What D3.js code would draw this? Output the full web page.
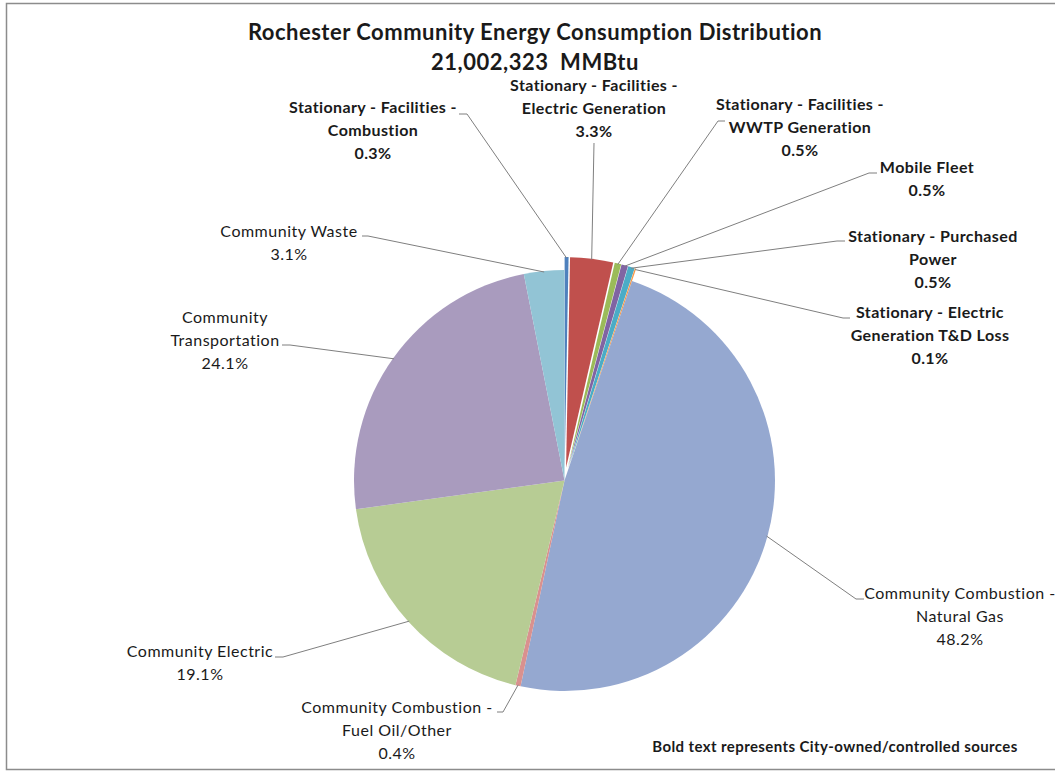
<!DOCTYPE html>
<html>
<head>
<meta charset="utf-8">
<script src="https://cdn.jsdelivr.net/npm/d3@7"></script>
<style>
  body { margin: 0; background: #fff; }
  text { font-family: Lato, "Liberation Sans", sans-serif; fill: #1a1a1a; }
</style>
</head>
<body>
<div id="chart"></div>
<script>
// slices clockwise from 12 o'clock
var categories = [
    "Stationary - Facilities - Combustion",
    "Stationary - Facilities - Electric Generation",
    "Stationary - Facilities - WWTP Generation",
    "Mobile Fleet",
    "Stationary - Purchased Power",
    "Stationary - Electric Generation T&D Loss",
    "Community Combustion - Natural Gas",
    "Community Combustion - Fuel Oil/Other",
    "Community Electric",
    "Community Transportation",
    "Community Waste"
];
var shares = [0.3, 3.3, 0.5, 0.5, 0.5, 0.1, 48.2, 0.4, 19.1, 24.1, 3.1];
var cityOwned = [true, true, true, true, true, true, false, false, false, false, false];
// how each label breaks into lines (the percent line is added below)
var labelLines = [
    ["Stationary - Facilities -", "Combustion"],
    ["Stationary - Facilities -", "Electric Generation"],
    ["Stationary - Facilities -", "WWTP Generation"],
    ["Mobile Fleet"],
    ["Stationary - Purchased", "Power"],
    ["Stationary - Electric", "Generation T&D Loss"],
    ["Community Combustion -", "Natural Gas"],
    ["Community Combustion -", "Fuel Oil/Other"],
    ["Community Electric"],
    ["Community", "Transportation"],
    ["Community Waste"]
];
var colors = ["#4F81BD", "#C0504D", "#9BBB59", "#8064A2", "#4BACC6", "#F79646",
              "#95A8D0", "#D9918F", "#B7CC94", "#A99BBE", "#92C4D5"];
var titleText = "Rochester Community Energy Consumption Distribution";
var totalText = "21,002,323  MMBtu";
var noteText = "Bold text represents City-owned/controlled sources";

var width = 1055, height = 772;
var cx = 564.5, cy = 480.5, radius = 210.5, explode = 13;
var lineGap = 23;

// label layout: centre x, first line y, hook (where the leader leaves the label), stub length
var labelPos = [
    {x: 373, y: 107, hx: 459, hy: 114, stub: 8},
    {x: 594, y: 85,  hx: 594, hy: 143, stub: 0},
    {x: 800, y: 104, hx: 725, hy: 121, stub: -7},
    {x: 927, y: 167, hx: 877, hy: 173, stub: -8},
    {x: 933, y: 236, hx: 845, hy: 241, stub: -8},
    {x: 930, y: 312, hx: 850, hy: 318, stub: -7},
    {x: 960, y: 593, hx: 864, hy: 599, stub: -8},
    {x: 397, y: 707, hx: 497, hy: 712, stub: 6},
    {x: 200, y: 651, hx: 275, hy: 657, stub: 8},
    {x: 225, y: 317, hx: 282, hy: 345, stub: 8},
    {x: 289, y: 231, hx: 362, hy: 236, stub: 6}
];

var svg = d3.select("#chart").append("svg")
    .attr("width", width)
    .attr("height", height);

// chart frame
svg.append("path")
    .attr("d", "M1060,3.5 H6.5 V769.5 H1060")
    .attr("fill", "none")
    .attr("stroke", "#8c8c8c")
    .attr("stroke-width", 1.5);

svg.append("text")
    .attr("x", 535).attr("y", 32).attr("dy", "0.35em")
    .attr("text-anchor", "middle")
    .style("font-size", "22px").style("font-weight", "bold")
    .style("letter-spacing", "0.5px")
    .text(titleText);
svg.append("text")
    .attr("x", 535).attr("y", 62).attr("dy", "0.35em")
    .attr("text-anchor", "middle")
    .style("font-size", "22px").style("font-weight", "bold")
    .style("letter-spacing", "0.5px")
    .style("white-space", "pre")
    .text(totalText);

var pie = d3.pie().sort(null).value(function(d) { return d; });
var arcs = pie(shares);
var arc = d3.arc().innerRadius(0).outerRadius(radius);

function midAngle(d) { return (d.startAngle + d.endAngle) / 2; }
function offset(d, i) { return cityOwned[i] ? explode : 0; }

var g = svg.append("g").attr("transform", "translate(" + cx + "," + cy + ")");

g.selectAll("path.slice")
    .data(arcs)
    .enter().append("path")
    .attr("class", "slice")
    .attr("d", arc)
    .attr("fill", function(d, i) { return colors[i]; })
    .attr("transform", function(d, i) {
        var a = midAngle(d), o = offset(d, i);
        return "translate(" + (o * Math.sin(a)) + "," + (-o * Math.cos(a)) + ")";
    });

// leader lines
svg.selectAll("path.leader")
    .data(arcs)
    .enter().append("path")
    .attr("class", "leader")
    .attr("fill", "none")
    .attr("stroke", "#7f7f7f")
    .attr("stroke-width", 1)
    .attr("d", function(d, i) {
        var a = midAngle(d), r = radius + offset(d, i) - 1;
        var ex = cx + r * Math.sin(a), ey = cy - r * Math.cos(a);
        var p = labelPos[i];
        var pts = [[p.hx, p.hy]];
        if (p.stub) pts.push([p.hx + p.stub, p.hy]);
        pts.push([ex, ey]);
        return d3.line()(pts);
    });

// labels
var labels = svg.selectAll("text.lbl")
    .data(arcs)
    .enter().append("text")
    .attr("class", "lbl")
    .attr("text-anchor", "middle")
    .style("font-size", "16px")
    .style("letter-spacing", function(d, i) { return cityOwned[i] ? "0.4px" : "0.5px"; })
    .style("font-weight", function(d, i) { return cityOwned[i] ? "bold" : "normal"; });

labels.each(function(d, i) {
    var lines = labelLines[i].concat([d3.format(".1f")(shares[i]) + "%"]);
    var t = d3.select(this);
    lines.forEach(function(l, k) {
        t.append("tspan")
            .attr("x", labelPos[i].x)
            .attr("y", labelPos[i].y + k * lineGap)
            .attr("dy", "0.35em")
            .text(l);
    });
});

svg.append("text")
    .attr("x", 835).attr("y", 747).attr("dy", "0.35em")
    .attr("text-anchor", "middle")
    .style("font-size", "15px").style("font-weight", "bold")
    .style("letter-spacing", "0.4px")
    .text(noteText);
</script>
</body>
</html>
